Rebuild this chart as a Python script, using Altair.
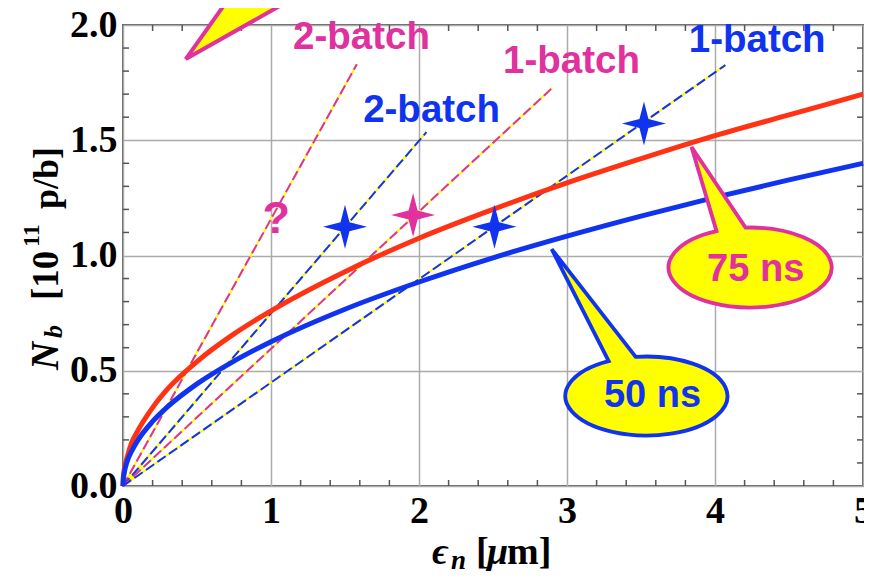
import altair as alt
import pandas as pd

# ---------------- data ----------------
x_pts = [0, 0.002, 0.005, 0.01, 0.03, 0.06, 0.1, 0.2, 0.3, 0.5, 0.75, 1.0,
         1.5, 2.0, 2.5, 3.0, 3.5, 4.0, 4.5, 5.0]
nb_75ns = [0, 0.034, 0.054, 0.076, 0.13, 0.19, 0.24, 0.34, 0.42, 0.54, 0.66, 0.76,
           0.93, 1.075, 1.2, 1.315, 1.42, 1.52, 1.61, 1.70]
nb_50ns = [0, 0.028, 0.044, 0.063, 0.11, 0.153, 0.198, 0.28, 0.343, 0.443, 0.542, 0.626,
           0.767, 0.885, 0.99, 1.084, 1.171, 1.252, 1.328, 1.40]

batch_series = ["pink2", "blue2", "pink1", "blue1"]
batch_text = ["2-batch", "2-batch", "1-batch", "1-batch"]
batch_end_x = [1.58, 2.05, 2.90, 4.07]
batch_end_y = [1.83, 1.535, 1.727, 1.826]
label_x = [1.612, 2.085, 3.03, 4.285]
label_y = [1.896, 1.579, 1.792, 1.884]

blue_star_x = [1.50, 2.51, 3.52]
blue_star_y = [1.125, 1.125, 1.573]
pink_star_x = [1.96]
pink_star_y = [1.176]

question_x = [1.036]
question_y = [1.098]

balloon_text = ["75 ns", "50 ns"]
balloon_x = [4.24, 3.535]
balloon_y = [0.948, 0.390]
balloon_text_x = [4.275, 3.578]
balloon_text_y = [0.891, 0.343]

arrow_x = [0.424]
arrow_y = [1.852]

x_ticks = [0, 1, 2, 3, 4, 5]
y_ticks = [0, 0.5, 1.0, 1.5, 2.0]
x_minor = [0.2, 0.4, 0.6, 0.8, 1.2, 1.4, 1.6, 1.8, 2.2, 2.4, 2.6, 2.8,
           3.2, 3.4, 3.6, 3.8, 4.2, 4.4, 4.6, 4.8]
y_minor = [0.1, 0.2, 0.3, 0.4, 0.6, 0.7, 0.8, 0.9, 1.1, 1.2, 1.3, 1.4,
           1.6, 1.7, 1.8, 1.9]

# ---------------- styling ----------------
RED = "#ff3214"
BLUE = "#1033f0"
PINK = "#e0319e"
YELLOW = "#ffff00"
W, H = 740, 461

xs = alt.Scale(domain=[0, 5], nice=False, zero=False)
ys = alt.Scale(domain=[0, 2], nice=False, zero=False)

curves = pd.DataFrame({
    "x": x_pts * 2,
    "y": nb_75ns + nb_50ns,
    "s": ["75ns"] * len(x_pts) + ["50ns"] * len(x_pts),
})
lines = pd.DataFrame({
    "s": batch_series * 2,
    "x": [0.0] * 4 + batch_end_x,
    "y": [0.0] * 4 + batch_end_y,
    "o": [0] * 4 + [1] * 4,
})
labels = pd.DataFrame({"s": batch_series, "t": batch_text, "x": label_x, "y": label_y})
balloons = pd.DataFrame({"t": balloon_text, "x": balloon_x, "y": balloon_y,
                         "tx": balloon_text_x, "ty": balloon_text_y})
one = pd.DataFrame({"k": [0]})

cscale = alt.Scale(domain=["pink2", "blue2", "pink1", "blue1", "75ns", "50ns", "75 ns", "50 ns"],
                   range=[PINK, BLUE, PINK, BLUE, RED, BLUE, PINK, BLUE])
series_color = alt.Color("s:N", legend=None, scale=cscale)

LABEL_AXIS = dict(labelFont="Liberation Serif", labelFontWeight="bold",
                  labelFontSize=38, labelColor="black",
                  grid=True, gridColor="#ababab", gridWidth=1.5,
                  ticks=False, tickSize=0, domain=False, title=None)

base = alt.Chart(curves).mark_line(opacity=0).encode(
    x=alt.X("x:Q", scale=xs,
            axis=alt.Axis(values=x_ticks, format="d", labelFlush=False, labelPadding=6,
                          **LABEL_AXIS)),
    y=alt.Y("y:Q", scale=ys,
            axis=alt.Axis(values=y_ticks, format=".1f", labelPadding=6, **LABEL_AXIS)),
)

tick_col = "#555555"
xt = pd.DataFrame({"x": x_minor})
yt = pd.DataFrame({"y": y_minor})
ticks = [
    alt.Chart(xt).mark_rule(color=tick_col, strokeWidth=1.5).encode(
        x=alt.X("x:Q", scale=xs), y=alt.value(H), y2=alt.value(H - 6)),
    alt.Chart(xt).mark_rule(color=tick_col, strokeWidth=1.5).encode(
        x=alt.X("x:Q", scale=xs), y=alt.value(0), y2=alt.value(6)),
    alt.Chart(yt).mark_rule(color=tick_col, strokeWidth=1.5).encode(
        y=alt.Y("y:Q", scale=ys), x=alt.value(0), x2=alt.value(6)),
    alt.Chart(yt).mark_rule(color=tick_col, strokeWidth=1.5).encode(
        y=alt.Y("y:Q", scale=ys), x=alt.value(W), x2=alt.value(W - 6)),
]

dash_under = alt.Chart(lines).mark_line(color=YELLOW, strokeWidth=2).encode(
    x=alt.X("x:Q", scale=xs), y=alt.Y("y:Q", scale=ys), detail="s:N", order="o:Q")
dash_over = alt.Chart(lines).mark_line(strokeWidth=2, strokeDash=[10, 4]).encode(
    x=alt.X("x:Q", scale=xs), y=alt.Y("y:Q", scale=ys), color=series_color, order="o:Q")

curve_layer = alt.Chart(curves).mark_line(strokeWidth=5, interpolate="monotone").encode(
    x=alt.X("x:Q", scale=xs), y=alt.Y("y:Q", scale=ys), color=series_color)

label_layer = alt.Chart(labels).mark_text(
    font="Liberation Sans", fontWeight="bold", fontSize=38.5, align="center",
    baseline="alphabetic").encode(
    x=alt.X("x:Q", scale=xs), y=alt.Y("y:Q", scale=ys), text="t:N", color=series_color)

STAR = "M0,-22 L4.5,-4.5 L22,0 L4.5,4.5 L0,22 L-4.5,4.5 L-22,0 L-4.5,-4.5 Z"
blue_stars = alt.Chart(pd.DataFrame({"x": blue_star_x, "y": blue_star_y})).mark_point(
    shape=STAR, size=4, filled=True, opacity=1, strokeWidth=0, color=BLUE).encode(
    x=alt.X("x:Q", scale=xs), y=alt.Y("y:Q", scale=ys))
pink_stars = alt.Chart(pd.DataFrame({"x": pink_star_x, "y": pink_star_y})).mark_point(
    shape=STAR, size=4, filled=True, opacity=1, strokeWidth=0, color=PINK).encode(
    x=alt.X("x:Q", scale=xs), y=alt.Y("y:Q", scale=ys))

question = alt.Chart(pd.DataFrame({"x": question_x, "y": question_y})).mark_text(
    text="?", font="Liberation Sans", fontWeight="bold", fontSize=45, color=PINK,
    align="center", baseline="alphabetic").encode(
    x=alt.X("x:Q", scale=xs), y=alt.Y("y:Q", scale=ys))

B75 = "M-34,-36.4 L-59,-120.5 L-5,-39.9 A81.5 40 0 1 1 -34,-36.4 Z"
B50 = "M-37.5,-35 L-94.5,-147 L-10.5,-39.2 A81 39.5 0 1 1 -37.5,-35 Z"
b75 = alt.Chart(balloons.iloc[[0]]).mark_point(
    shape=B75, size=4, filled=True, fill=YELLOW, stroke=PINK, strokeWidth=3.8,
    opacity=1, fillOpacity=1, strokeOpacity=1).encode(
    x=alt.X("x:Q", scale=xs), y=alt.Y("y:Q", scale=ys))
b50 = alt.Chart(balloons.iloc[[1]]).mark_point(
    shape=B50, size=4, filled=True, fill=YELLOW, stroke=BLUE, strokeWidth=3.8,
    opacity=1, fillOpacity=1, strokeOpacity=1).encode(
    x=alt.X("x:Q", scale=xs), y=alt.Y("y:Q", scale=ys))
btext = alt.Chart(balloons).mark_text(
    font="Liberation Sans", fontWeight="bold", fontSize=38, align="center",
    baseline="alphabetic").encode(
    x=alt.X("tx:Q", scale=xs), y=alt.Y("ty:Q", scale=ys), text="t:N",
    color=alt.Color("t:N", legend=None, scale=cscale))

ARROW = "M0,0 L49,-69 L122,-69 Z"
arrow = alt.Chart(pd.DataFrame({"x": arrow_x, "y": arrow_y})).mark_point(
    shape=ARROW, size=4, filled=True, fill=YELLOW, stroke=PINK, strokeWidth=4,
    opacity=1, fillOpacity=1, strokeOpacity=1, strokeJoin="miter").encode(
    x=alt.X("x:Q", scale=xs), y=alt.Y("y:Q", scale=ys))


def txt(s, x, y, size, italic=False, angle=0):
    props = dict(text=s, font="Liberation Serif", fontSize=size, fontWeight="bold",
                 align="left", baseline="alphabetic", color="black")
    if italic:
        props["fontStyle"] = "italic"
    if angle:
        props["angle"] = angle
    return alt.Chart(one).mark_text(**props).encode(x=alt.value(x), y=alt.value(y))


xtitle = [
    txt("ϵ", 309, 539, 38, italic=True),
    txt("n", 328, 544, 27, italic=True),
    txt("[", 353, 539, 38),
    txt("μ", 364, 539, 38, italic=True),
    txt("m]", 384, 539, 38),
]
ytitle = [
    txt("N", -65, 345, 39, italic=True, angle=270),
    txt("b", -61, 313, 26, italic=True, angle=270),
    txt("[10", -65, 275, 37, angle=270),
    txt("11", -84, 222, 24, angle=270),
    txt("p/b]", -65, 184, 36, angle=270),
]

chart = alt.layer(
    base, *ticks, dash_under, dash_over, curve_layer, label_layer, blue_stars, pink_stars,
    question, b75, b50, btext, arrow, *xtitle, *ytitle
).properties(
    width=W, height=H,
    padding={"left": 115, "top": 17, "right": 1, "bottom": 85},
    autosize=alt.AutoSizeParams(type="none"),
).configure_view(
    stroke="#606060", strokeWidth=2
)

chart.save("out.html", embed_options={"renderer": "svg", "actions": False})
